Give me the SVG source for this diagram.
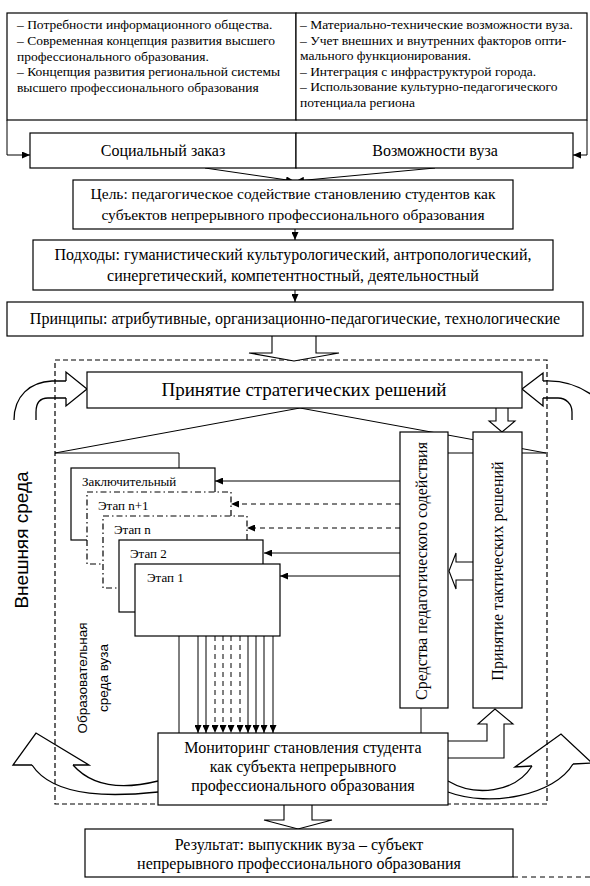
<svg xmlns="http://www.w3.org/2000/svg" width="590" height="886" viewBox="0 0 590 886">
<defs>
<marker id="ah" viewBox="0 0 10 10" refX="10" refY="5" markerWidth="8" markerHeight="7" orient="auto" markerUnits="userSpaceOnUse" preserveAspectRatio="none"><path d="M0,0 L10,5 L0,10 z" fill="#000"/></marker>
<style>
.bx{fill:#fff;stroke:#000;stroke-width:1.2}
.dd{stroke-dasharray:6,3,1.5,3}
.ln{fill:none;stroke:#000;stroke-width:1}
.ds{stroke-dasharray:5,4}
.od{fill:none;stroke:#000;stroke-width:1.2;stroke-dasharray:5,3}
.ba{fill:#fff;stroke:#000;stroke-width:1.1}
.cv{fill:none;stroke:#000;stroke-width:1.3}
.t{font-family:"Liberation Serif","Times New Roman","DejaVu Serif",serif;fill:#000}
.s13{font-size:13.5px}
.s155{font-size:15.5px}
.s15{font-size:15px}
.s16{font-size:16px}
.s19{font-size:19px}
.st{font-size:13px}
.sans{font-family:"Liberation Sans",Arial,sans-serif;fill:#000}
.m{text-anchor:middle}
</style>
</defs>
<rect width="590" height="886" fill="#fff"/>

<g id="outer-environment">
<rect x="55" y="360" width="492" height="444" class="od"/>
</g>

<g id="connectors">
<polyline points="7,120 7,155 30,155" class="ln" marker-end="url(#ah)"/>
<polyline points="587,120 587,155 573,155" class="ln" marker-end="url(#ah)"/>
<line x1="205" y1="168" x2="294" y2="181" class="ln" marker-end="url(#ah)"/>
<line x1="435" y1="168" x2="296" y2="181" class="ln" marker-end="url(#ah)"/>
<line x1="295" y1="229" x2="295" y2="240" class="ln" marker-end="url(#ah)"/>
<line x1="295" y1="290" x2="295" y2="302" class="ln" marker-end="url(#ah)"/>
<path d="M272,336 L272,353 L249,353 L294,361 L339,353 L316,353 L316,336" class="ba"/>
<path d="M66,381 L52,381 C30,382 14,396 14,420" class="cv"/>
<path d="M66,398 L48,398 C40,398 36,403 36,412 L36,420" class="cv"/>
<path d="M66,381 L66,372 L87,389 L66,406 L66,398" class="cv"/>
<path d="M543,381 C560,380 578,385 592,395" class="cv"/>
<path d="M543,398 L558,398 C566,398 572,404 572,412 L572,420" class="cv"/>
<path d="M543,381 L543,373 L522,389 L543,406 L543,398" class="cv"/>
<line x1="300" y1="408" x2="55" y2="453" class="ln"/>
<line x1="300" y1="408" x2="546" y2="453" class="ln"/>
<polyline points="55,453 179,453 179,468" class="ln"/>
<line x1="400" y1="453" x2="546" y2="453" class="ln"/>
<path d="M496,408 L496,421 L489,421 L502,432 L515,421 L508,421 L508,408" class="ba"/>
<line x1="400" y1="481" x2="215" y2="481" class="ln" marker-end="url(#ah)"/>
<line x1="400" y1="504" x2="231" y2="504" class="ln ds" marker-end="url(#ah)"/>
<line x1="400" y1="528" x2="247" y2="528" class="ln ds" marker-end="url(#ah)"/>
<line x1="400" y1="553" x2="264" y2="553" class="ln" marker-end="url(#ah)"/>
<line x1="400" y1="576" x2="280" y2="576" class="ln" marker-end="url(#ah)"/>
<path d="M473,562 L456,562 L456,553 L449,571 L456,589 L456,580 L473,580" class="ba"/>
<line x1="421" y1="708" x2="421" y2="733" class="ln"/>
<line x1="179" y1="636" x2="179" y2="733" class="ln"/>
<line x1="198" y1="636" x2="198" y2="733" class="ln" marker-end="url(#ah)"/>
<line x1="206" y1="636" x2="206" y2="733" class="ln" marker-end="url(#ah)"/>
<line x1="215" y1="636" x2="215" y2="733" class="ln ds" marker-end="url(#ah)"/>
<line x1="223" y1="636" x2="223" y2="733" class="ln ds" marker-end="url(#ah)"/>
<line x1="231" y1="636" x2="231" y2="733" class="ln ds" marker-end="url(#ah)"/>
<line x1="240" y1="636" x2="240" y2="733" class="ln ds" marker-end="url(#ah)"/>
<line x1="248" y1="636" x2="248" y2="733" class="ln" marker-end="url(#ah)"/>
<line x1="256" y1="636" x2="256" y2="733" class="ln" marker-end="url(#ah)"/>
<line x1="264" y1="636" x2="264" y2="733" class="ln" marker-end="url(#ah)"/>
<line x1="273" y1="636" x2="273" y2="733" class="ln" marker-end="url(#ah)"/>
<path d="M448,741 L487,741 L487,724 L478,724 L495,709 L513,724 L504,724 L504,758 L448,758" class="ba"/>
<path d="M32,765 L13,765 L36,733 L89,765 L73,765" class="cv"/>
<path d="M32,765 C55,800 120,796 158,792" class="cv"/>
<path d="M73,765 C95,790 130,788 158,781" class="cv"/>
<path d="M532,766 L515,767 L561,734 L592,763 L573,764" class="cv"/>
<path d="M448,781 C475,797 515,793 532,766" class="cv"/>
<path d="M448,792 C490,808 555,795 573,764" class="cv"/>
<path d="M284,805 L284,820 L264,820 L298,829 L332,820 L312,820 L312,805" class="ba"/>
<line x1="513" y1="877" x2="590" y2="877" class="ln ds"/>
</g>

<g id="needs-box">
<rect x="7" y="13" width="289" height="107" class="bx"/>
<text class="t s13" x="17" y="29">– Потребности информационного общества.</text>
<text class="t s13" x="17" y="45">– Современная концепция развития высшего</text>
<text class="t s13" x="17" y="61">профессионального образования.</text>
<text class="t s13" x="17" y="76">– Концепция развития региональной системы</text>
<text class="t s13" x="17" y="92">высшего профессионального образования</text>
</g>
<g id="resources-box">
<rect x="296" y="13" width="291" height="107" class="bx"/>
<text class="t s13" x="300" y="29">– Материально-технические возможности вуза.</text>
<text class="t s13" x="300" y="45">– Учет внешних и внутренних факторов опти-</text>
<text class="t s13" x="300" y="60">мального функционирования.</text>
<text class="t s13" x="300" y="76">– Интеграция с инфраструктурой города.</text>
<text class="t s13" x="300" y="91">– Использование культурно-педагогического</text>
<text class="t s13" x="300" y="107">потенциала региона</text>
</g>
<g id="social-order">
<rect x="30" y="133" width="266" height="35" class="bx"/>
<text class="t s16 m" x="163" y="156">Социальный заказ</text>
</g>
<g id="university-capabilities">
<rect x="296" y="133" width="277" height="35" class="bx"/>
<text class="t s16 m" x="435" y="156">Возможности вуза</text>
</g>
<g id="goal">
<rect x="73" y="180" width="440" height="49" class="bx"/>
<text class="t s155 m" x="293" y="199">Цель: педагогическое содействие становлению студентов как</text>
<text class="t s155 m" x="293" y="220">субъектов непрерывного профессионального образования</text>
</g>
<g id="approaches">
<rect x="33" y="240" width="520" height="50" class="bx"/>
<text class="t s16 m" x="293" y="260">Подходы: гуманистический культурологический, антропологический,</text>
<text class="t s16 m" x="293" y="281">синергетический, компетентностный, деятельностный</text>
</g>
<g id="principles">
<rect x="7" y="302" width="576" height="34" class="bx"/>
<text class="t s16 m" x="295" y="324">Принципы: атрибутивные, организационно-педагогические, технологические</text>
</g>
<g id="strategic">
<rect x="87" y="372" width="435" height="36" class="bx"/>
<text class="t s19 m" x="304" y="396">Принятие стратегических решений</text>
</g>
<g id="stage-final">
<rect x="71" y="468" width="144" height="72" class="bx"/>
<text class="t st" x="82" y="486">Заключительный</text>
</g>
<g id="stage-n1">
<rect x="87" y="492" width="144" height="72" class="bx dd"/>
<text class="t st" x="98" y="510">Этап n+1</text>
</g>
<g id="stage-n">
<rect x="103" y="516" width="144" height="72" class="bx dd"/>
<text class="t st" x="114" y="534">Этап n</text>
</g>
<g id="stage-2">
<rect x="119" y="540" width="144" height="72" class="bx"/>
<text class="t st" x="130" y="558">Этап 2</text>
</g>
<g id="stage-1">
<rect x="135" y="564" width="145" height="72" class="bx"/>
<text class="t st" x="147" y="582">Этап 1</text>
</g>
<g id="means">
<rect x="400" y="432" width="48" height="276" class="bx"/>
<text class="t s16 m" x="427" y="571" transform="rotate(-90 427 571)">Средства педагогического содействия</text>
</g>
<g id="tactical">
<rect x="473" y="432" width="49" height="276" class="bx"/>
<text class="t s16 m" x="503" y="571" transform="rotate(-90 503 571)">Принятие тактических решений</text>
</g>
<g id="monitoring">
<rect x="158" y="733" width="290" height="72" class="bx"/>
<text class="t s16 m" x="303" y="753">Мониторинг становления студента</text>
<text class="t s16 m" x="303" y="772">как субъекта непрерывного</text>
<text class="t s16 m" x="303" y="791">профессионального образования</text>
</g>
<g id="result">
<rect x="85" y="829" width="428" height="48" class="bx"/>
<text class="t s16 m" x="299" y="850">Результат: выпускник вуза – субъект</text>
<text class="t s16 m" x="299" y="869">непрерывного профессионального образования</text>
</g>
<g id="labels">
<text class="sans m" font-size="19" x="28" y="540" transform="rotate(-90 28 540)">Внешняя среда</text>
<text class="sans m" font-size="13.5" x="87" y="678" transform="rotate(-90 87 678)">Образовательная</text>
<text class="sans m" font-size="13.5" x="108" y="678" transform="rotate(-90 108 678)">среда вуза</text>
</g>
</svg>
